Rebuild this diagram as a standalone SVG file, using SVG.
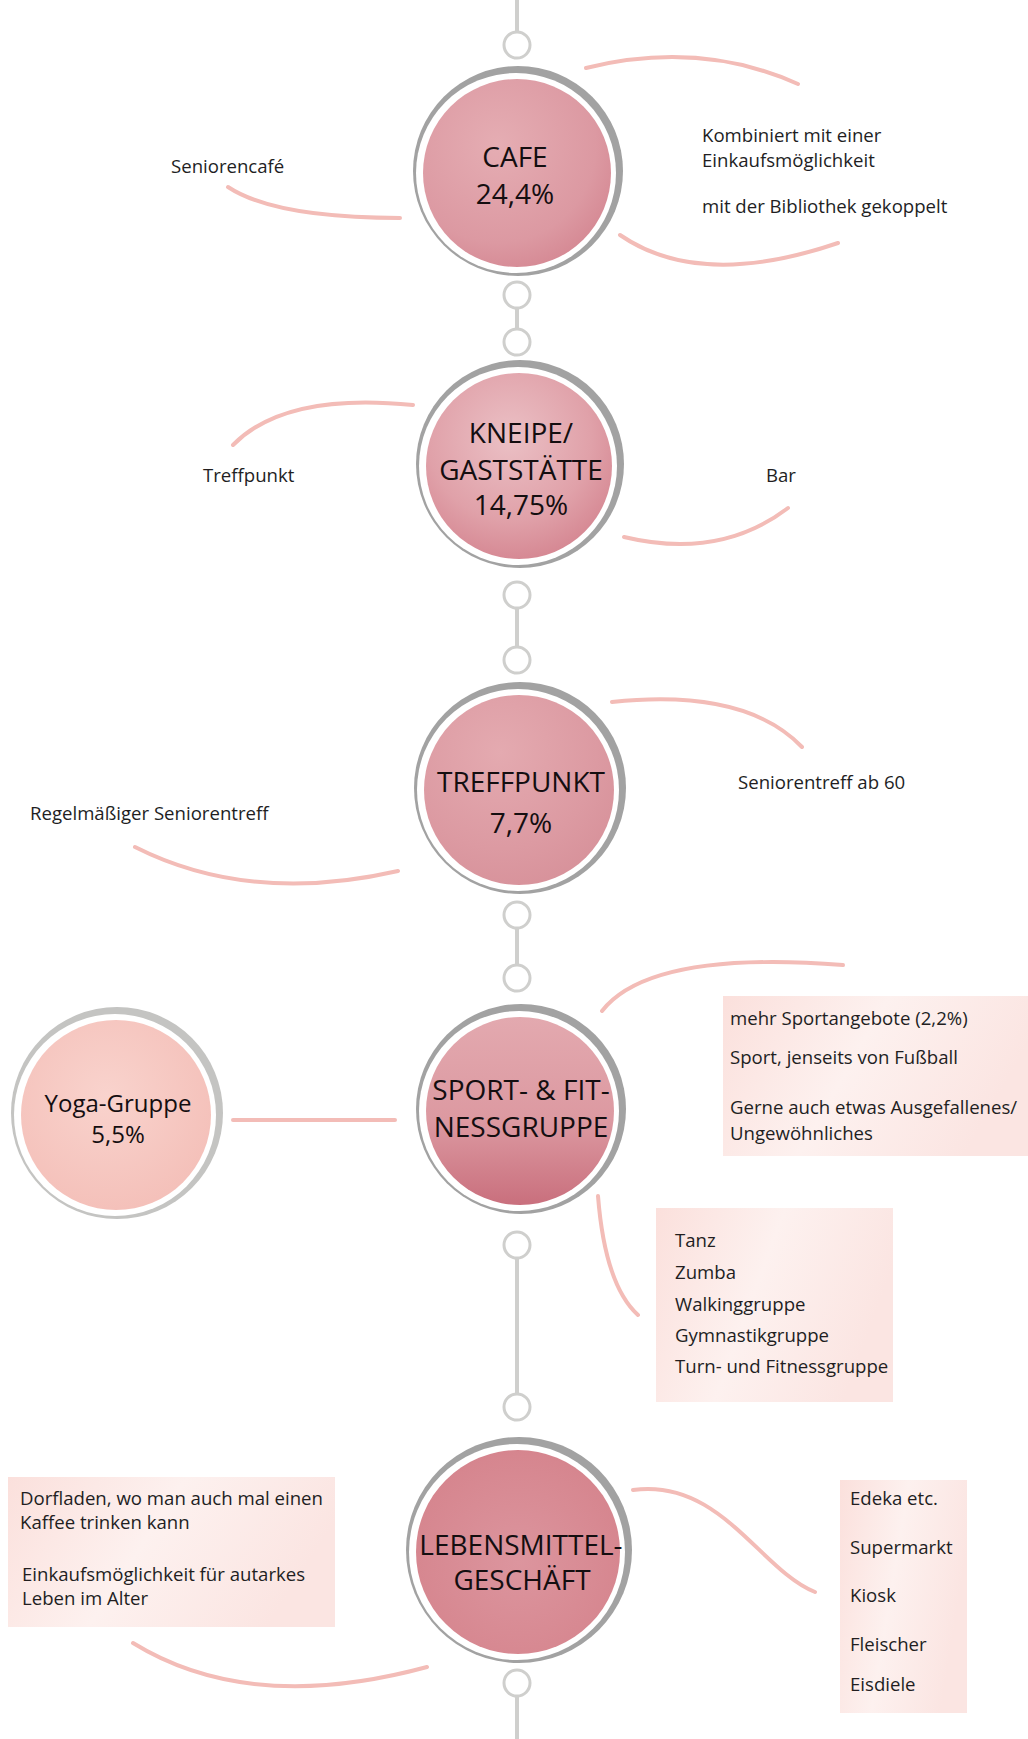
<svg xmlns="http://www.w3.org/2000/svg" width="1028" height="1739" viewBox="0 0 1028 1739">
<defs>
<style>
.spine{stroke:#cfcfcd;stroke-width:4;fill:none}
.ring{fill:#fff;stroke:#cfcfcd;stroke-width:3}
.curve{fill:none;stroke:#f3bcb7;stroke-width:4;stroke-linecap:round}
.outer{fill:#a2a2a2}
.gap{fill:#fff}
.ctext{font-family:"Open Sans","Noto Sans",sans-serif;font-size:28px;font-weight:500;fill:#140e10;text-anchor:middle}
.stext{font-family:"Open Sans","Noto Sans",sans-serif;font-size:18.6px;fill:#221e1f}
</style>
<radialGradient id="gCafe" cx="0.4" cy="0.35" r="0.8">
<stop offset="0" stop-color="#e5adb3"/><stop offset="0.65" stop-color="#dc99a2"/><stop offset="1" stop-color="#d17f8b"/>
</radialGradient>
<radialGradient id="gKneipe" cx="0.45" cy="0.35" r="0.8">
<stop offset="0" stop-color="#ebc0c5"/><stop offset="0.55" stop-color="#e0a1a9"/><stop offset="1" stop-color="#cf7885"/>
</radialGradient>
<radialGradient id="gTreff" cx="0.4" cy="0.3" r="0.85">
<stop offset="0" stop-color="#e4aab0"/><stop offset="0.6" stop-color="#dc9aa2"/><stop offset="1" stop-color="#d58e97"/>
</radialGradient>
<linearGradient id="gSport" x1="0" y1="0" x2="0" y2="1">
<stop offset="0" stop-color="#e3a9af"/><stop offset="0.55" stop-color="#dc99a1"/><stop offset="1" stop-color="#c96f7d"/>
</linearGradient>
<radialGradient id="gLebens" cx="0.5" cy="0.55" r="0.75">
<stop offset="0" stop-color="#dc959e"/><stop offset="0.7" stop-color="#d6868f"/><stop offset="1" stop-color="#cf7884"/>
</radialGradient>
<radialGradient id="gYoga" cx="0.45" cy="0.4" r="0.75">
<stop offset="0" stop-color="#f9d3cd"/><stop offset="1" stop-color="#f3bcb5"/>
</radialGradient>
<linearGradient id="gBox" x1="0" y1="0" x2="1" y2="0.3">
<stop offset="0" stop-color="#fbe0dc"/><stop offset="0.5" stop-color="#fdf1ef"/><stop offset="1" stop-color="#fbe5e2"/>
</linearGradient>
</defs>
<rect width="1028" height="1739" fill="#fff"/>

<g id="connectors">
<line class="spine" x1="517" y1="0" x2="517" y2="32"/>
<line class="spine" x1="517" y1="295" x2="517" y2="342"/>
<line class="spine" x1="517" y1="595" x2="517" y2="660"/>
<line class="spine" x1="517" y1="915" x2="517" y2="978"/>
<line class="spine" x1="517" y1="1245" x2="517" y2="1407"/>
<line class="spine" x1="517" y1="1683" x2="517" y2="1739"/>
<circle class="ring" cx="517" cy="45" r="13"/>
<circle class="ring" cx="517" cy="295" r="13"/>
<circle class="ring" cx="517" cy="342" r="13"/>
<circle class="ring" cx="517" cy="595" r="13"/>
<circle class="ring" cx="517" cy="660" r="13"/>
<circle class="ring" cx="517" cy="915" r="13"/>
<circle class="ring" cx="517" cy="978" r="13"/>
<circle class="ring" cx="517" cy="1245" r="13"/>
<circle class="ring" cx="517" cy="1407" r="13"/>
<circle class="ring" cx="517" cy="1683" r="13"/>
<path class="curve" d="M228,187 Q275,218 400,218"/>
<path class="curve" d="M586,68 Q700,40 798,84"/>
<path class="curve" d="M620,235 Q700,290 838,243"/>
<path class="curve" d="M413,405 Q285,392 233,445"/>
<path class="curve" d="M624,537 Q720,560 788,508"/>
<path class="curve" d="M612,702 Q745,688 802,747"/>
<path class="curve" d="M135,847 Q250,905 398,871"/>
<path class="curve" d="M602,1011 Q650,950 843,965"/>
<path class="curve" d="M598,1196 Q605,1285 638,1315"/>
<path class="curve" d="M133,1643 Q250,1715 427,1667"/>
<path class="curve" d="M633,1490 C720,1478 760,1570 815,1592"/>
<line class="curve" x1="233" y1="1120" x2="395" y2="1120" stroke-width="5"/>
</g>

<g id="node-cafe">
<circle class="outer" cx="518" cy="171" r="105"/>
<circle class="gap" cx="516" cy="173" r="100"/>
<circle cx="517" cy="173" r="94" fill="url(#gCafe)"/>
<text class="ctext" x="515" y="167">CAFE</text>
<text class="ctext" x="515" y="204">24,4%</text>
</g>
<g id="note-cafe-left"><text class="stext" x="171" y="173">Seniorencafé</text></g>
<g id="note-cafe-right">
<text class="stext" x="702" y="142">Kombiniert mit einer</text>
<text class="stext" x="702" y="167">Einkaufsmöglichkeit</text>
<text class="stext" x="702" y="213">mit der Bibliothek gekoppelt</text>
</g>

<g id="node-kneipe">
<circle class="outer" cx="520" cy="464" r="104"/>
<circle class="gap" cx="518" cy="466" r="99"/>
<circle cx="519" cy="466" r="93" fill="url(#gKneipe)"/>
<text class="ctext" x="521" y="443">KNEIPE/</text>
<text class="ctext" x="521" y="480">GASTSTÄTTE</text>
<text class="ctext" x="521" y="515">14,75%</text>
</g>
<g id="note-kneipe-left"><text class="stext" x="203" y="482">Treffpunkt</text></g>
<g id="note-kneipe-right"><text class="stext" x="766" y="482">Bar</text></g>

<g id="node-treffpunkt">
<circle class="outer" cx="520" cy="788" r="106"/>
<circle class="gap" cx="518" cy="790" r="101"/>
<circle cx="519" cy="790" r="95" fill="url(#gTreff)"/>
<text class="ctext" x="521" y="792">TREFFPUNKT</text>
<text class="ctext" x="521" y="833">7,7%</text>
</g>
<g id="note-treff-left"><text class="stext" x="30" y="820">Regelmäßiger Seniorentreff</text></g>
<g id="note-treff-right"><text class="stext" x="738" y="789">Seniorentreff ab 60</text></g>

<g id="node-sport">
<circle class="outer" cx="521" cy="1109" r="105"/>
<circle class="gap" cx="519" cy="1111" r="100"/>
<circle cx="520" cy="1111" r="94" fill="url(#gSport)"/>
<text class="ctext" x="521" y="1100">SPORT- &amp; FIT-</text>
<text class="ctext" x="521" y="1137">NESSGRUPPE</text>
</g>

<g id="node-yoga">
<circle cx="117" cy="1113" r="106" fill="#c4c4c2"/>
<circle class="gap" cx="115" cy="1115" r="101"/>
<circle cx="116" cy="1115" r="95" fill="url(#gYoga)"/>
<text class="ctext" x="118" y="1112" style="font-size:24px">Yoga-Gruppe</text>
<text class="ctext" x="118" y="1143" style="font-size:24px">5,5%</text>
</g>

<g id="note-sport-top">
<rect x="723" y="996" width="305" height="160" fill="url(#gBox)"/>
<text class="stext" x="730" y="1025">mehr Sportangebote (2,2%)</text>
<text class="stext" x="730" y="1064">Sport, jenseits von Fußball</text>
<text class="stext" x="730" y="1114">Gerne auch etwas Ausgefallenes/</text>
<text class="stext" x="730" y="1140">Ungewöhnliches</text>
</g>
<g id="note-sport-bottom">
<rect x="656" y="1208" width="237" height="194" fill="url(#gBox)"/>
<text class="stext" x="675" y="1247">Tanz</text>
<text class="stext" x="675" y="1279">Zumba</text>
<text class="stext" x="675" y="1311">Walkinggruppe</text>
<text class="stext" x="675" y="1342">Gymnastikgruppe</text>
<text class="stext" x="675" y="1373">Turn- und Fitnessgruppe</text>
</g>

<g id="node-lebensmittel">
<circle class="outer" cx="519" cy="1550" r="113"/>
<circle class="gap" cx="517" cy="1552" r="108"/>
<circle cx="518" cy="1552" r="102" fill="url(#gLebens)"/>
<text class="ctext" x="521" y="1555">LEBENSMITTEL-</text>
<text class="ctext" x="522" y="1590">GESCHÄFT</text>
</g>
<g id="note-lebens-left">
<rect x="8" y="1477" width="327" height="150" fill="url(#gBox)"/>
<text class="stext" x="20" y="1505">Dorfladen, wo man auch mal einen</text>
<text class="stext" x="20" y="1529">Kaffee trinken kann</text>
<text class="stext" x="22" y="1581">Einkaufsmöglichkeit für autarkes</text>
<text class="stext" x="22" y="1605">Leben im Alter</text>
</g>
<g id="note-lebens-right">
<rect x="840" y="1480" width="127" height="233" fill="url(#gBox)"/>
<text class="stext" x="850" y="1505">Edeka etc.</text>
<text class="stext" x="850" y="1554">Supermarkt</text>
<text class="stext" x="850" y="1602">Kiosk</text>
<text class="stext" x="850" y="1651">Fleischer</text>
<text class="stext" x="850" y="1691">Eisdiele</text>
</g>
</svg>
